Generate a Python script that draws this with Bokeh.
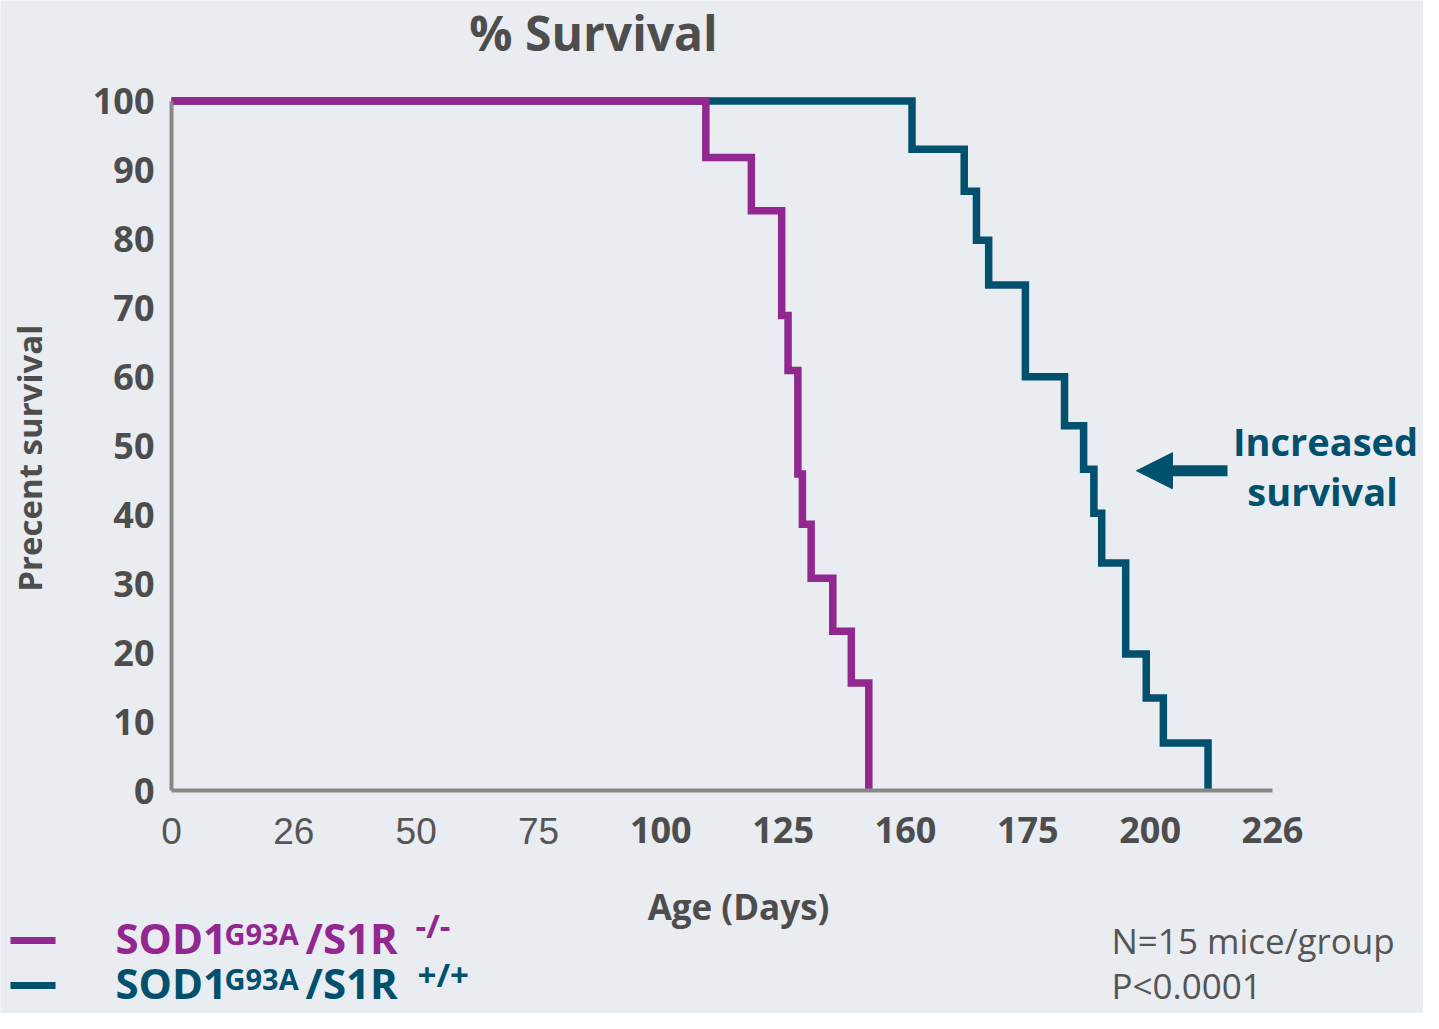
import numpy as np
from bokeh.plotting import figure
from bokeh.models import Range1d, FixedTicker, Label, Arrow, NormalHead
from bokeh.embed import file_html
from bokeh.resources import INLINE

# ---------------- data ----------------
x_tick_values = [0, 26, 50, 75, 100, 125, 160, 175, 200, 226]
y_tick_values = [0, 10, 20, 30, 40, 50, 60, 70, 80, 90, 100]

# SOD1 G93A / S1R -/-  (days, % survival)
ko_days = [0, 109.2, 118.5, 124.7, 126.4, 129.2, 130.5, 133.0, 139.2, 144.5, 149.5]
ko_surv = [100, 91.8, 84.1, 68.9, 60.9, 45.9, 38.6, 30.8, 23.1, 15.6, 0]

# SOD1 G93A / S1R +/+
wt_days = [0, 160.8, 167.2, 168.7, 170.2, 174.7, 182.5, 186.4, 188.5, 190.1, 195.0, 199.2, 202.8, 212.3]
wt_surv = [100, 93.0, 86.9, 79.8, 73.3, 60.0, 52.9, 46.6, 40.2, 33.0, 19.8, 13.4, 6.9, 0]

# ---------------- style ----------------
BG = "#e9ecf1"
PURPLE = "#92278f"
BLUE = "#00506e"
GREY = "#4d4d4d"
AXIS = "#888888"

W, H = 1423, 1013
tick_idx = list(range(len(x_tick_values)))


def to_axis(days):
    # the x axis places its labelled days at equal spacing
    return np.interp(days, x_tick_values, tick_idx)


# plot area: x index 0..9 spans pixels 171..1272, y 0..100 spans pixels 790..100.5
px_per_x = (1272 - 171) / (len(x_tick_values) - 1)
px_per_y = (790 - 100.5) / 100.0
x_range = Range1d(-171 / px_per_x, (W - 171) / px_per_x)
y_range = Range1d(-(H - 790) / px_per_y, 790 / px_per_y)

p = figure(width=W, height=H, output_backend="svg", toolbar_location=None,
           x_range=x_range, y_range=y_range,
           min_border=0, min_border_left=0, min_border_right=0, min_border_top=0, min_border_bottom=0,
           background_fill_color=BG, border_fill_color=BG, outline_line_color=None)
p.title.visible = False
p.grid.visible = False

p.step(to_axis(wt_days), wt_surv, mode="after", line_width=7.5, line_color=BLUE, line_join="miter")
p.step(to_axis(ko_days), ko_surv, mode="after", line_width=7.5, line_color=PURPLE, line_join="miter")

# axes (drawn through the origin of the data space)
xa = p.xaxis[0]
xa.ticker = FixedTicker(ticks=tick_idx)
xa.major_label_overrides = {i: (str(v) if v >= 100 else "") for i, v in zip(tick_idx, x_tick_values)}
xa.fixed_location = 0
xa.bounds = (0, len(x_tick_values) - 1)
ya = p.yaxis[0]
ya.ticker = FixedTicker(ticks=y_tick_values)
ya.fixed_location = 0
ya.bounds = (0, 100)
for ax in (xa, ya):
    ax.axis_line_color = AXIS
    ax.axis_line_width = 4
    ax.major_tick_line_color = None
    ax.minor_tick_line_color = None
    ax.major_tick_out = 0
    ax.major_tick_in = 0
    ax.major_label_text_font = "Open Sans"
    ax.major_label_text_font_size = "36px"
    ax.major_label_text_font_style = "bold"
    ax.major_label_text_color = GREY
xa.major_label_standoff = 26
ya.major_label_standoff = 17

SHIFT = 0.42  # label box offset below the requested baseline, in em


def add_text(x, y, text, size, color, style="bold", font="Open Sans", align="left", angle=0.0):
    if angle:
        x = x - SHIFT * size / px_per_x
    else:
        y = y + SHIFT * size / px_per_y
    p.add_layout(Label(x=x, y=y, text=text, text_font=font, text_font_size=f"{size}px",
                       text_font_style=style, text_color=color, text_align=align,
                       text_baseline="alphabetic", angle=angle))


# regular-weight x tick labels (0 - 75)
for i, v in zip(tick_idx, x_tick_values):
    if v < 100:
        add_text(i, -8.08, str(v), 37, "#555555", style="normal", font="Liberation Sans", align="center")

# titles
add_text(3.45, 107.03, "% Survival", 48, GREY, align="center")
add_text(-1.046, 48.2, "Precent survival", 33, GREY, align="center", angle=np.pi / 2)
add_text(4.635, -19.0, "Age (Days)", 35, GREY, align="center")

# annotation arrow
p.add_layout(Arrow(end=NormalHead(size=36, fill_color=BLUE, line_color=BLUE),
                   x_start=8.632, y_start=46.37, x_end=7.888, y_end=46.37,
                   line_width=11, line_color=BLUE))
add_text(9.433, 48.33, "Increased", 38, BLUE, align="center")
add_text(9.409, 41.07, "survival", 38, BLUE, align="center")

# legend (two rows)
row_step = 6.527
rows = [(PURPLE, 0.0, "-/-", 1.995, -21.61), (BLUE, -row_step, "+/+", 2.011, -28.72)]
for color, dy, sup, sx, sy in rows:
    p.add_layout(Arrow(end=None, x_start=-1.316, y_start=-21.75 + dy, x_end=-0.948, y_end=-21.75 + dy,
                       line_width=7, line_color=color))
    add_text(-0.458, -23.93 + dy, "SOD1", 42, color)
    add_text(0.433, -22.48 + dy, "G93A", 29, color)
    add_text(1.096, -23.93 + dy, "/S1R", 42, color)
    add_text(sx, sy, sup, 33, color)

add_text(7.684, -23.93, "N=15 mice/group", 35, "#555555", style="normal")
add_text(7.684, -30.46, "P<0.0001", 35, "#555555", style="normal")

open("out.html", "w").write(file_html(p, INLINE))
